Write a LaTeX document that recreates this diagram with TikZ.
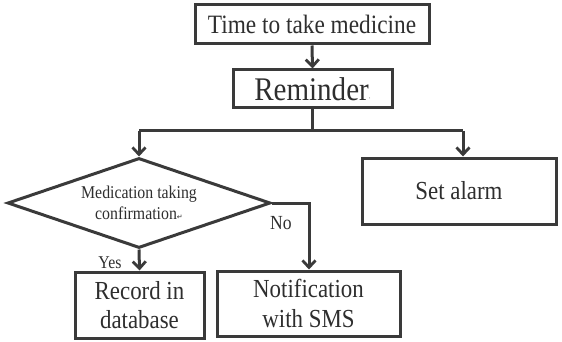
\documentclass[tikz,border=0pt]{standalone}
\usepackage{fontspec}
\setmainfont{Liberation Serif}[FakeStretch=0.88]
\newfontfamily\symfont{DejaVu Sans}
\usetikzlibrary{arrows.meta,shapes.geometric}
\definecolor{ink}{HTML}{3A3A3A}
\definecolor{txt}{HTML}{2E2E2E}
\tikzset{
  box/.style={draw=ink, line width=3pt, rectangle, inner sep=0pt, align=center, text=txt},
  decision/.style={draw=ink, line width=3pt, diamond, shape aspect=2.92, inner sep=0pt, align=center, text=txt},
  conn/.style={draw=ink, line width=3pt, -{Straight Barb[length=7pt,width=13pt,line width=2.8pt]}},
  plain/.style={draw=ink, line width=3pt},
  lbl/.style={text=txt, inner sep=0pt}
}
\begin{document}
\begin{tikzpicture}[x=1pt,y=-1pt]
\useasboundingbox (0,0) rectangle (562,342);
\node[box, minimum width=234pt, minimum height=39pt, font=\fontsize{26.5}{28}\selectfont] (time) at (312,24.5)
  {Time to take medicine};
\node[box, minimum width=159pt, minimum height=38pt, font=\fontsize{33}{35}\selectfont] (rem) at (312.5,89)
  {Reminder{\fontsize{6}{6}\selectfont\symfont ·}};
\node[decision, minimum width=263pt, minimum height=90pt, font=\fontsize{18}{21}\selectfont] (dec) at (139,203)
  {Medication taking\\confirmation{\fontsize{7}{7}\selectfont\symfont ↵}};
\node[box, minimum width=194pt, minimum height=66pt, font=\fontsize{26}{28}\selectfont] (alarm) at (459,191)
  {Set alarm};
\node[box, minimum width=129pt, minimum height=66pt, font=\fontsize{26}{29}\selectfont] (rec) at (139.5,305)
  {Record in\\database};
\node[box, minimum width=183pt, minimum height=65pt, font=\fontsize{26}{30}\selectfont] (sms) at (308.5,303.5)
  {Notification\\with SMS};
\coordinate (split) at (312.5,131);
\coordinate (lft) at (139,131);
\coordinate (rgt) at (463,131);
\coordinate (nocorner) at (309,203);
\draw[conn] (time.south) -- (rem.north);
\draw[plain] (rem.south) -- (split);
\draw[plain] (lft) -- (rgt);
\draw[conn] (lft) -- (dec.north);
\draw[conn] (rgt) -- (rgt |- alarm.north);
\draw[conn] (dec.south) -- (rec.north);
\draw[conn] (dec.east) -- (nocorner) -- (sms.north -| nocorner);
\node[lbl, font=\fontsize{20}{22}\selectfont] (no) at (281,223) {No};
\node[lbl, font=\fontsize{18}{20}\selectfont] (yes) at (110,263) {Yes};
\end{tikzpicture}
\end{document}
